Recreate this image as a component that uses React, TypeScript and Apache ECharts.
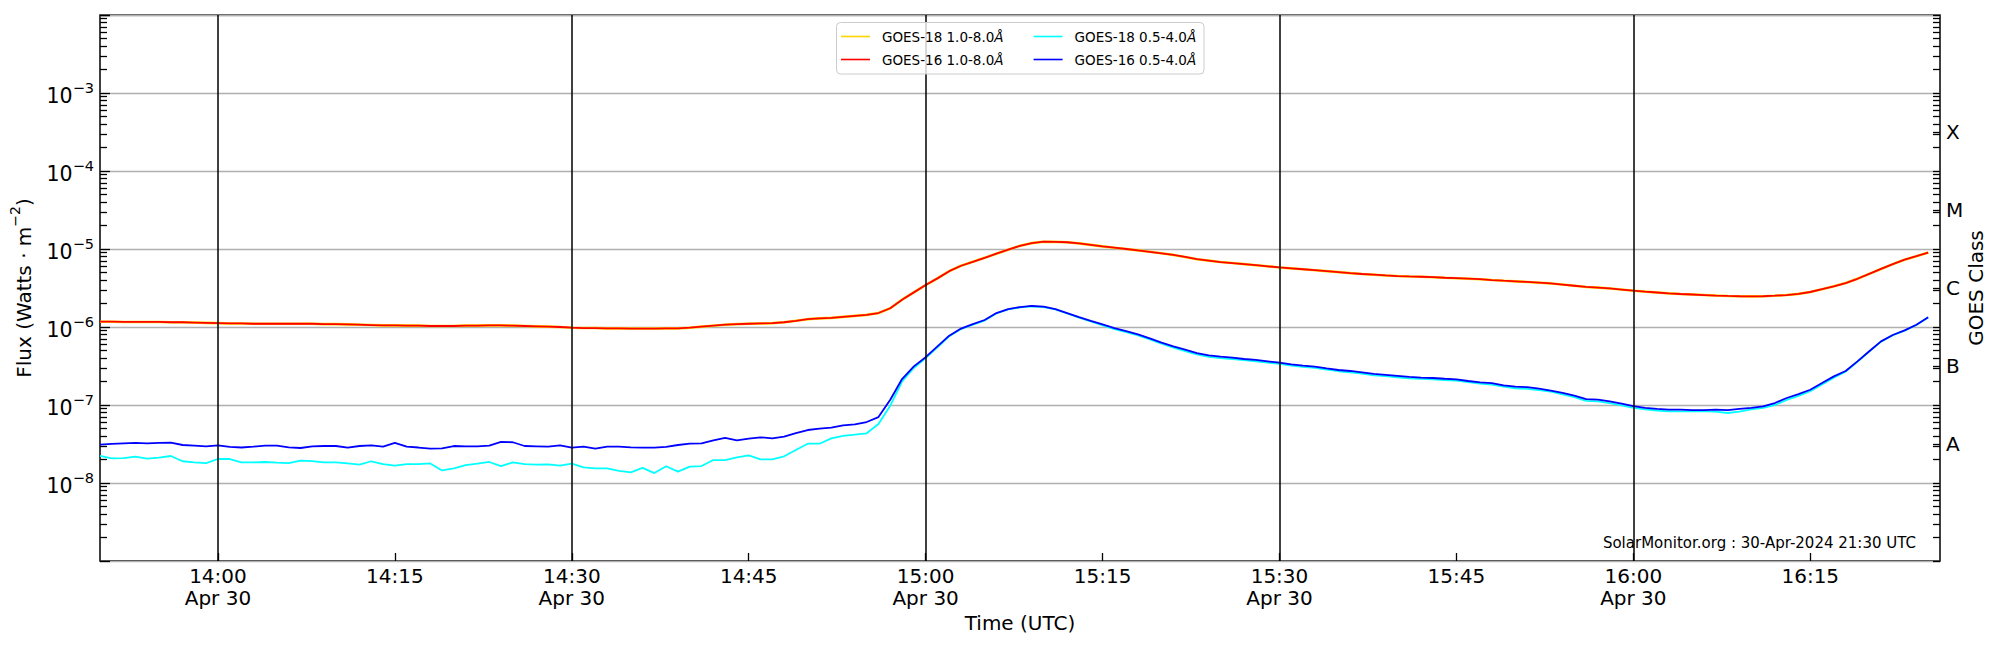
import React, { useEffect, useRef } from "react";
import * as echarts from "echarts";

const FONT = "DejaVu Sans";

// time axis: minutes since midnight UTC, 30 Apr 2024
const START_MIN = 830; // 13:50 UTC, first sample, one sample per minute
const X_MIN = 830;
const X_MAX = 986;
const X_TICKS = [840, 855, 870, 885, 900, 915, 930, 945, 960, 975];
const HALF_HOURS = [840, 870, 900, 930, 960];
const DATE_LABEL = "Apr 30";

// flux axis (log10 units for helper axes)
const Y_MIN = 1e-9;
const Y_MAX = 1e-2;
const CLASS_POS = [-7.5, -6.5, -5.5, -4.5, -3.5];
const CLASS_LABELS = ["A", "B", "C", "M", "X"];
const DECADES = [-9, -8, -7, -6, -5, -4, -3, -2];
const MINOR_MULTS = [2, 3, 4, 5, 6, 7, 8, 9];

const SERIES_NAMES = {
  g18Long: "GOES-18 1.0-8.0Å",
  g16Long: "GOES-16 1.0-8.0Å",
  g18Short: "GOES-18 0.5-4.0Å",
  g16Short: "GOES-16 0.5-4.0Å",
};

const WATERMARK = "SolarMonitor.org : 30-Apr-2024 21:30 UTC";

// GOES-16 1.0-8.0 Å (W/m^2), 13:50 .. 16:25, one per minute
const GOES16_LONG = [
  1.17e-6, 1.17e-6, 1.16e-6, 1.16e-6, 1.16e-6, 1.16e-6, 1.15e-6, 1.15e-6, 1.14e-6, 1.13e-6,
  1.12e-6, 1.11e-6, 1.11e-6, 1.10e-6, 1.10e-6, 1.10e-6, 1.10e-6, 1.10e-6, 1.10e-6, 1.09e-6,
  1.09e-6, 1.08e-6, 1.07e-6, 1.06e-6, 1.05e-6, 1.05e-6, 1.04e-6, 1.04e-6, 1.03e-6, 1.03e-6,
  1.03e-6, 1.04e-6, 1.04e-6, 1.05e-6, 1.05e-6, 1.04e-6, 1.03e-6, 1.02e-6, 1.01e-6, 1.00e-6,
  0.98e-6, 0.97e-6, 0.97e-6, 0.96e-6, 0.96e-6, 0.955e-6, 0.955e-6, 0.955e-6, 0.96e-6, 0.96e-6,
  0.98e-6, 1.01e-6, 1.04e-6, 1.07e-6, 1.09e-6, 1.10e-6, 1.11e-6, 1.12e-6, 1.15e-6, 1.20e-6,
  1.26e-6, 1.29e-6, 1.31e-6, 1.35e-6, 1.39e-6, 1.43e-6, 1.51e-6, 1.74e-6, 2.24e-6, 2.78e-6,
  3.45e-6, 4.2e-6, 5.2e-6, 6.1e-6, 6.85e-6, 7.7e-6, 8.7e-6, 9.8e-6, 1.10e-5, 1.19e-5,
  1.24e-5, 1.235e-5, 1.22e-5, 1.18e-5, 1.13e-5, 1.08e-5, 1.04e-5, 1.00e-5, 9.6e-6, 9.2e-6,
  8.8e-6, 8.4e-6, 7.9e-6, 7.4e-6, 7.1e-6, 6.8e-6, 6.6e-6, 6.4e-6, 6.2e-6, 6.0e-6,
  5.8e-6, 5.65e-6, 5.5e-6, 5.35e-6, 5.2e-6, 5.05e-6, 4.9e-6, 4.78e-6, 4.68e-6, 4.58e-6,
  4.5e-6, 4.45e-6, 4.41e-6, 4.35e-6, 4.28e-6, 4.22e-6, 4.16e-6, 4.10e-6, 4.0e-6, 3.92e-6,
  3.85e-6, 3.78e-6, 3.70e-6, 3.62e-6, 3.50e-6, 3.38e-6, 3.26e-6, 3.20e-6, 3.12e-6, 3.02e-6,
  2.92e-6, 2.84e-6, 2.77e-6, 2.70e-6, 2.65e-6, 2.61e-6, 2.57e-6, 2.53e-6, 2.50e-6, 2.48e-6,
  2.47e-6, 2.48e-6, 2.52e-6, 2.57e-6, 2.66e-6, 2.81e-6, 3.05e-6, 3.32e-6, 3.66e-6, 4.15e-6,
  4.80e-6, 5.55e-6, 6.40e-6, 7.30e-6, 8.10e-6, 9.00e-6,
];

// GOES-18 1.0-8.0 Å: indistinguishable from GOES-16 in the picture (hidden beneath it)
const GOES18_LONG = GOES16_LONG.slice();

// GOES-16 0.5-4.0 Å
const GOES16_SHORT = [
  3.10e-8, 3.18e-8, 3.23e-8, 3.26e-8, 3.23e-8, 3.27e-8, 3.29e-8, 3.07e-8, 3.02e-8, 2.95e-8,
  3.04e-8, 2.90e-8, 2.85e-8, 2.92e-8, 3.01e-8, 3.01e-8, 2.87e-8, 2.81e-8, 2.95e-8, 2.98e-8,
  2.98e-8, 2.85e-8, 2.98e-8, 3.04e-8, 2.92e-8, 3.26e-8, 2.92e-8, 2.85e-8, 2.76e-8, 2.78e-8,
  2.98e-8, 2.95e-8, 2.95e-8, 3.01e-8, 3.36e-8, 3.33e-8, 2.98e-8, 2.95e-8, 2.92e-8, 3.03e-8,
  2.84e-8, 2.92e-8, 2.76e-8, 2.92e-8, 2.92e-8, 2.87e-8, 2.84e-8, 2.84e-8, 2.90e-8, 3.07e-8,
  3.19e-8, 3.22e-8, 3.52e-8, 3.78e-8, 3.52e-8, 3.70e-8, 3.85e-8, 3.74e-8, 3.93e-8, 4.37e-8,
  4.78e-8, 4.97e-8, 5.12e-8, 5.48e-8, 5.65e-8, 6.05e-8, 7.0e-8, 1.17e-7, 2.15e-7, 3.13e-7,
  4.10e-7, 5.65e-7, 7.74e-7, 9.55e-7, 1.09e-6, 1.23e-6, 1.51e-6, 1.70e-6, 1.80e-6, 1.86e-6,
  1.82e-6, 1.70e-6, 1.51e-6, 1.34e-6, 1.20e-6, 1.08e-6, 9.7e-7, 8.88e-7, 8.05e-7, 7.16e-7,
  6.30e-7, 5.65e-7, 5.12e-7, 4.64e-7, 4.33e-7, 4.17e-7, 4.05e-7, 3.89e-7, 3.78e-7, 3.63e-7,
  3.49e-7, 3.32e-7, 3.19e-7, 3.10e-7, 2.95e-7, 2.81e-7, 2.73e-7, 2.62e-7, 2.50e-7, 2.43e-7,
  2.36e-7, 2.29e-7, 2.24e-7, 2.22e-7, 2.17e-7, 2.13e-7, 2.03e-7, 1.95e-7, 1.91e-7, 1.79e-7,
  1.72e-7, 1.69e-7, 1.62e-7, 1.53e-7, 1.43e-7, 1.32e-7, 1.19e-7, 1.17e-7, 1.11e-7, 1.04e-7,
  9.7e-8, 9.2e-8, 8.9e-8, 8.7e-8, 8.7e-8, 8.6e-8, 8.6e-8, 8.7e-8, 8.6e-8, 8.9e-8,
  9.2e-8, 9.6e-8, 1.06e-7, 1.23e-7, 1.38e-7, 1.57e-7, 1.91e-7, 2.33e-7, 2.73e-7, 3.63e-7,
  4.88e-7, 6.55e-7, 7.89e-7, 9.06e-7, 1.07e-6, 1.33e-6,
];

// GOES-18 0.5-4.0 Å
const GOES18_SHORT = [
  2.22e-8, 2.07e-8, 2.09e-8, 2.18e-8, 2.05e-8, 2.11e-8, 2.22e-8, 1.90e-8, 1.84e-8, 1.80e-8,
  2.03e-8, 2.03e-8, 1.84e-8, 1.84e-8, 1.86e-8, 1.82e-8, 1.80e-8, 1.94e-8, 1.91e-8, 1.84e-8,
  1.84e-8, 1.78e-8, 1.72e-8, 1.90e-8, 1.75e-8, 1.67e-8, 1.75e-8, 1.75e-8, 1.78e-8, 1.45e-8,
  1.54e-8, 1.70e-8, 1.77e-8, 1.86e-8, 1.65e-8, 1.84e-8, 1.75e-8, 1.72e-8, 1.73e-8, 1.67e-8,
  1.77e-8, 1.59e-8, 1.54e-8, 1.54e-8, 1.43e-8, 1.37e-8, 1.56e-8, 1.34e-8, 1.64e-8, 1.40e-8,
  1.62e-8, 1.65e-8, 1.97e-8, 1.97e-8, 2.13e-8, 2.26e-8, 2.01e-8, 2.01e-8, 2.20e-8, 2.65e-8,
  3.19e-8, 3.19e-8, 3.74e-8, 4.01e-8, 4.16e-8, 4.34e-8, 5.70e-8, 9.8e-8, 2.0e-7, 2.98e-7,
  4.0e-7, 5.5e-7, 7.6e-7, 9.4e-7, 1.07e-6, 1.21e-6, 1.49e-6, 1.68e-6, 1.78e-6, 1.84e-6,
  1.80e-6, 1.68e-6, 1.49e-6, 1.32e-6, 1.18e-6, 1.05e-6, 9.4e-7, 8.6e-7, 7.8e-7, 6.95e-7,
  6.1e-7, 5.45e-7, 4.92e-7, 4.45e-7, 4.15e-7, 4.0e-7, 3.89e-7, 3.75e-7, 3.64e-7, 3.50e-7,
  3.37e-7, 3.21e-7, 3.08e-7, 2.99e-7, 2.85e-7, 2.71e-7, 2.63e-7, 2.52e-7, 2.40e-7, 2.34e-7,
  2.27e-7, 2.20e-7, 2.16e-7, 2.14e-7, 2.09e-7, 2.05e-7, 1.96e-7, 1.88e-7, 1.83e-7, 1.72e-7,
  1.64e-7, 1.61e-7, 1.55e-7, 1.48e-7, 1.37e-7, 1.26e-7, 1.13e-7, 1.11e-7, 1.06e-7, 9.9e-8,
  9.2e-8, 8.8e-8, 8.5e-8, 8.3e-8, 8.3e-8, 8.3e-8, 8.3e-8, 8.2e-8, 7.9e-8, 8.2e-8,
  8.8e-8, 9.2e-8, 1.0e-7, 1.16e-7, 1.31e-7, 1.50e-7, 1.83e-7, 2.24e-7, 2.68e-7, 3.58e-7,
  4.84e-7, 6.5e-7, 7.85e-7, 9.0e-7, 1.06e-6, 1.32e-6,
];

const MINOR_TICKS: number[] = [];
for (const d of DECADES.slice(0, -1)) {
  for (const m of MINOR_MULTS) MINOR_TICKS.push(d + Math.log10(m));
}

const pad = (n: number) => (n < 10 ? "0" + n : "" + n);
const fmtTime = (v: number) => {
  const m = Math.round(v);
  const s = `${pad(Math.floor(m / 60))}:${pad(m % 60)}`;
  return m % 30 === 0 ? `${s}\n${DATE_LABEL}` : s;
};
const fmtPow = (v: number) => {
  const e = Math.round(Math.log10(v));
  if (e <= -9 || e >= -2) return "";
  return `{b|10}{s|−${-e}}`;
};
const fmtClass = (v: number) => {
  const i = CLASS_POS.findIndex((p) => Math.abs(p - v) < 1e-6);
  return i >= 0 ? CLASS_LABELS[i] : "";
};

const toPoints = (arr: number[]) => arr.map((v, i) => [START_MIN + i, v]);

const supRich = {
  b: { fontSize: 20.5, fontFamily: FONT, color: "#000", lineHeight: 26, verticalAlign: "bottom" },
  s: { fontSize: 14.5, fontFamily: FONT, color: "#000", lineHeight: 18, verticalAlign: "top" },
};

const tickLine = { color: "#000", width: 1.3 };

const helperAxis = (position: string, values: number[], len: number) => ({
  type: "value",
  min: -9,
  max: -2,
  position,
  axisLine: { show: false },
  axisLabel: { show: false },
  splitLine: { show: false },
  axisTick: { show: true, inside: true, length: len, customValues: values, lineStyle: tickLine },
});

const legendCommon = {
  orient: "horizontal",
  left: 841,
  padding: 0,
  icon: "rect",
  itemWidth: 29,
  itemHeight: 1.6,
  itemGap: 30,
  selectedMode: false,
  z: 20,
  formatter: (name: string) => name.replace("Å", "{i|Å}"),
  textStyle: {
    fontSize: 13.5,
    fontFamily: FONT,
    color: "#000",
    padding: [0, 0, 0, 7],
    rich: { i: { fontSize: 13.5, fontFamily: FONT, fontStyle: "italic", color: "#000" } },
  },
};

const option = {
  animation: false,
  backgroundColor: "#ffffff",
  textStyle: { fontFamily: FONT, color: "#000" },
  grid: {
    left: 100,
    right: 60,
    top: 15,
    bottom: 89,
    show: true,
    borderColor: "#000",
    borderWidth: 1.5,
    backgroundColor: "transparent",
  },
  legend: [
    { ...legendCommon, top: 29.5, data: [SERIES_NAMES.g18Long, SERIES_NAMES.g18Short] },
    { ...legendCommon, top: 52.5, data: [SERIES_NAMES.g16Long, SERIES_NAMES.g16Short] },
  ],
  xAxis: {
    type: "value",
    min: X_MIN,
    max: X_MAX,
    name: "Time (UTC)",
    nameLocation: "middle",
    nameGap: 52,
    nameMoveOverlap: false,
    nameTextStyle: { fontSize: 20, fontFamily: FONT, color: "#000" },
    axisLine: { show: false },
    axisTick: { show: true, inside: true, length: 8, customValues: X_TICKS, lineStyle: tickLine },
    axisLabel: {
      customValues: X_TICKS,
      formatter: fmtTime,
      fontSize: 20,
      fontFamily: FONT,
      color: "#000",
      margin: 4,
      lineHeight: 22,
    },
    splitLine: { show: false },
  },
  yAxis: [
    {
      type: "log",
      logBase: 10,
      min: Y_MIN,
      max: Y_MAX,
      splitNumber: 7,
      position: "left",
      name: "{b|Flux (Watts · m}{s|−2}{b|)}",
      nameLocation: "middle",
      nameRotate: 90,
      nameGap: 66,
      nameMoveOverlap: false,
      nameTextStyle: {
        rich: {
          b: { fontSize: 20, fontFamily: FONT, color: "#000", lineHeight: 26, verticalAlign: "bottom" },
          s: { fontSize: 14, fontFamily: FONT, color: "#000", lineHeight: 18, verticalAlign: "top" },
        },
      },
      axisLine: { show: false },
      axisTick: { show: true, inside: true, length: 10, lineStyle: tickLine },
      axisLabel: { formatter: fmtPow, margin: 6, rich: supRich },
      splitLine: { show: true, lineStyle: { color: "#b0b0b0", width: 1.3 } },
    },
    {
      type: "value",
      min: -9,
      max: -2,
      position: "right",
      name: "GOES Class",
      nameLocation: "middle",
      nameRotate: 90,
      nameGap: 26,
      nameMoveOverlap: false,
      nameTextStyle: { fontSize: 20, fontFamily: FONT, color: "#000" },
      axisLine: { show: false },
      axisTick: { show: true, inside: true, length: 7, customValues: CLASS_POS, lineStyle: tickLine },
      axisLabel: {
        customValues: CLASS_POS,
        formatter: fmtClass,
        fontSize: 20,
        fontFamily: FONT,
        color: "#000",
        margin: 6,
      },
      splitLine: { show: false },
    },
    helperAxis("left", MINOR_TICKS, 7),
    helperAxis("right", MINOR_TICKS.concat(DECADES), 7),
  ],
  graphic: [
    {
      type: "rect",
      z: 10,
      silent: true,
      shape: { x: 836.5, y: 22.5, width: 367.5, height: 51.5, r: 4 },
      style: { fill: "rgba(255,255,255,0.8)", stroke: "#cccccc", lineWidth: 1 },
    },
    {
      type: "text",
      z: 10,
      silent: true,
      x: 1916,
      y: 543,
      style: {
        text: WATERMARK,
        fontSize: 15,
        fontFamily: FONT,
        fill: "#000",
        align: "right",
        verticalAlign: "middle",
        textAlign: "right",
        textVerticalAlign: "middle",
      },
    },
  ],
  series: [
    {
      name: SERIES_NAMES.g18Long,
      type: "line",
      yAxisIndex: 0,
      data: toPoints(GOES18_LONG),
      symbol: "none",
      showSymbol: false,
      z: 2,
      itemStyle: { color: "#ffd700" },
      lineStyle: { color: "#ffd700", width: 2.6 },
      markLine: {
        silent: true,
        symbol: ["none", "none"],
        label: { show: false },
        lineStyle: { color: "#000", width: 1.5, type: "solid" },
        data: HALF_HOURS.map((x) => ({ xAxis: x })),
      },
    },
    {
      name: SERIES_NAMES.g16Long,
      type: "line",
      yAxisIndex: 0,
      data: toPoints(GOES16_LONG),
      symbol: "none",
      showSymbol: false,
      z: 3,
      itemStyle: { color: "#ff0000" },
      lineStyle: { color: "#ff0000", width: 1.8 },
    },
    {
      name: SERIES_NAMES.g18Short,
      type: "line",
      yAxisIndex: 0,
      data: toPoints(GOES18_SHORT),
      symbol: "none",
      showSymbol: false,
      z: 3,
      itemStyle: { color: "#00ffff" },
      lineStyle: { color: "#00ffff", width: 1.8 },
    },
    {
      name: SERIES_NAMES.g16Short,
      type: "line",
      yAxisIndex: 0,
      data: toPoints(GOES16_SHORT),
      symbol: "none",
      showSymbol: false,
      z: 4,
      itemStyle: { color: "#0000ff" },
      lineStyle: { color: "#0000ff", width: 1.8 },
    },
  ],
};

export default function App() {
  const ref = useRef<HTMLDivElement>(null);
  useEffect(() => {
    const el = ref.current;
    if (!el) return;
    const chart = echarts.init(el, null, { renderer: "svg" });
    chart.setOption(option as any);
    return () => chart.dispose();
  }, []);
  return (
    <div
      ref={ref}
      style={{ position: "fixed", left: 0, top: 0, width: 2000, height: 650, background: "#ffffff" }}
    />
  );
}
